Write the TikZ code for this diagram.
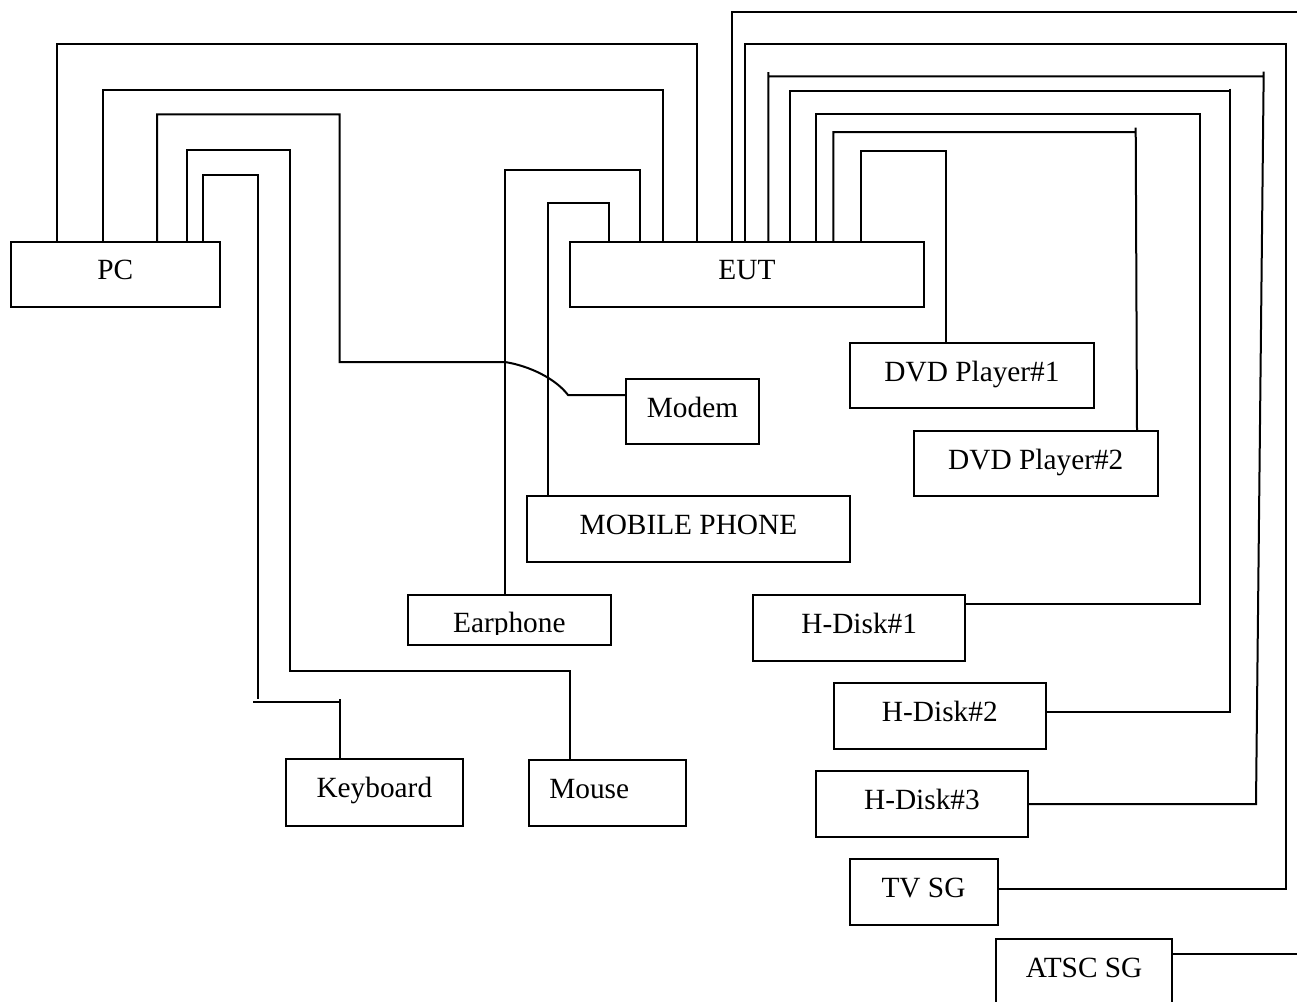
\documentclass[tikz,border=0pt]{standalone}
\usepackage{fontspec}
\setmainfont{Liberation Serif}
\begin{document}
\begin{tikzpicture}[x=0.75pt,y=-0.75pt,
  box/.style={draw, rectangle, anchor=north west, inner sep=0pt, line width=1.5pt,
    font=\fontsize{22}{26}\selectfont, text height=14pt, text depth=6pt},
  wire/.style={line width=1.5pt, line join=miter}]
\useasboundingbox (0,0) rectangle (1297,1001);

% boxes
\node[box, minimum width=157.1pt, minimum height=48.75pt] (pc) at (9.5,241) {PC};
\node[box, minimum width=265.5pt, minimum height=48.75pt] (eut) at (569,241) {EUT};
\node[box, minimum width=183pt, minimum height=48.75pt] (dvd1) at (849,342.3) {DVD Player\#1};
\node[box, minimum width=182.7pt, minimum height=49pt] (dvd2) at (913,430) {DVD Player\#2};
\node[box, minimum width=99.75pt, minimum height=49pt] (modem) at (625,378) {Modem};
\node[box, minimum width=242.7pt, minimum height=49.3pt] (mobile) at (525.7,495) {MOBILE PHONE};
\node[box, minimum width=152pt, minimum height=37.3pt,
  path picture={\clip (path picture bounding box.north west) rectangle ([yshift=8.25pt]path picture bounding box.south east);
    \node[font=\fontsize{22}{26}\selectfont, anchor=base, inner sep=0pt] at ([yshift=-9.5pt]path picture bounding box.center) {Earphone};}]
  (earphone) at (407,594.3) {};
\node[box, minimum width=158.7pt, minimum height=49.3pt] (hd1) at (752.4,594.3) {H-Disk\#1};
\node[box, minimum width=158.6pt, minimum height=49pt] (hd2) at (833.1,682.3) {H-Disk\#2};
\node[box, minimum width=158.6pt, minimum height=49pt] (hd3) at (815.2,770.3) {H-Disk\#3};
\node[box, minimum width=111pt, minimum height=49pt] (tvsg) at (848.5,858.3) {TV SG};
\node[box, minimum width=131.6pt, minimum height=48.75pt] (atsc) at (995.4,938.3) {ATSC SG};
\node[box, minimum width=132.5pt, minimum height=50pt] (keyboard) at (285,758.3) {Keyboard};
\node[box, minimum width=117.9pt, minimum height=49.3pt] (mouse) at (527.6,759.3) {Mouse\hspace*{27pt}};

\coordinate (offA) at (1310,12);
\coordinate (offB) at (1310,954.3);

% PC side
\draw[wire] (pc.north -| 57,0) -- (57,44) -- (697,44) -- (eut.north -| 697,0);
\draw[wire] (pc.north -| 102.7,0) -- (102.7,89.7) -- (663.3,89.7) -- (eut.north -| 663.3,0);
\draw[wire] (pc.north -| 157,0) -- (157,114.3) -- (339.7,114.3) -- (339.7,362) -- (505,362)
  .. controls (530,366) and (556,379) .. (568,395) -- (modem.west |- 0,395);
\draw[wire] (pc.north -| 187.3,0) -- (187.3,150.3) -- (289.5,150.3) -- (289.5,670.7) -- (570.4,670.7) -- (mouse.north -| 570.4,0);
\draw[wire] (pc.north -| 203,0) -- (203,175) -- (258,175) -- (258,699)
  (253,702) -- (340,702) (340,699) -- (keyboard.north -| 340,0);

% EUT left side
\draw[wire] (eut.north -| 640,0) -- (640,170.3) -- (505,170.3) -- (earphone.north -| 505,0);
\draw[wire] (eut.north -| 609.3,0) -- (609.3,203.3) -- (548.3,203.3) -- (mobile.north -| 548.3,0);

% EUT right side
\draw[wire] (eut.north -| 731.7,0) -- (731.7,12) -- (offA);
\draw[wire] (atsc.east |- 0,954.3) -- (offB);
\draw[wire] (eut.north -| 745.3,0) -- (745.3,43.7) -- (1285.7,43.7) -- (1285.7,888.7) -- (tvsg.east |- 0,888.7);
\draw[wire] (eut.north -| 768.3,0) -- (768.3,72) (768.3,76.3) -- (1263.7,76.3)
  (1263.7,71.7) -- (1256,804) -- (hd3.east |- 0,804);
\draw[wire] (eut.north -| 789.7,0) -- (789.7,90.7) -- (1229.7,90.7)
  (1229.7,88.7) -- (1229.7,712) -- (hd2.east |- 0,712);
\draw[wire] (eut.north -| 815.7,0) -- (815.7,114.3) -- (1200,114.3) -- (1200,604) -- (hd1.east |- 0,604);
\draw[wire] (eut.north -| 833.3,0) -- (833.3,132) -- (1135.7,132)
  (1135.7,127.7) -- (dvd2.north -| 1137,0);
\draw[wire] (eut.north -| 861.3,0) -- (861.3,150.7) -- (945.7,150.7) -- (dvd1.north -| 945.7,0);
\end{tikzpicture}
\end{document}
